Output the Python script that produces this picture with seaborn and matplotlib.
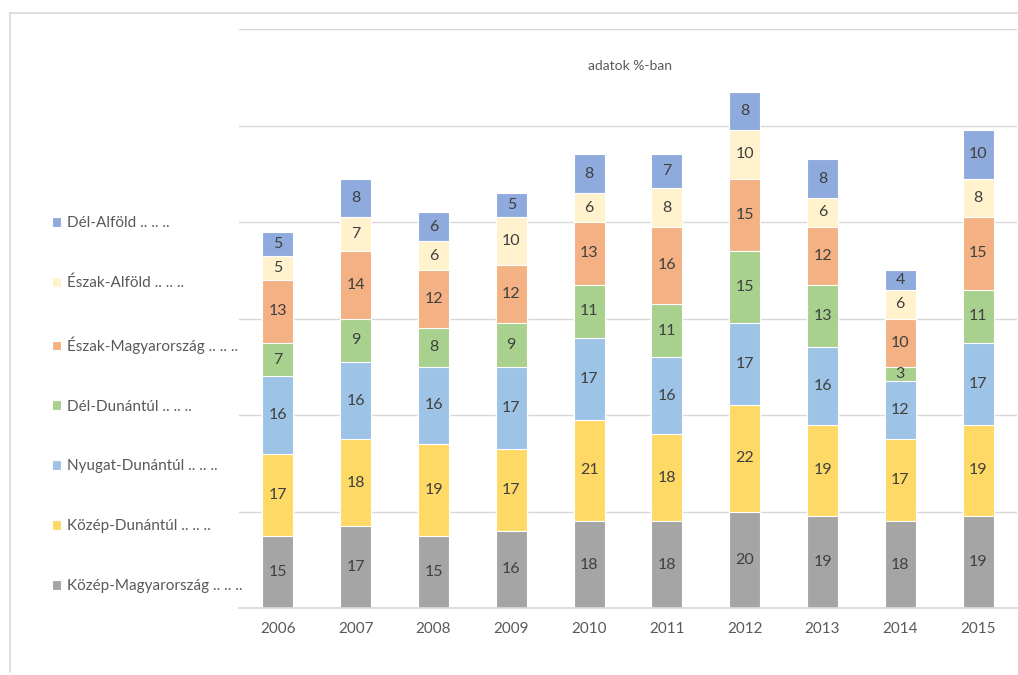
import matplotlib.pyplot as plt
import matplotlib.lines as mlines
import numpy as np
import pandas as pd
import seaborn as sns

years = ["2006", "2007", "2008", "2009", "2010", "2011", "2012", "2013", "2014", "2015"]

# bottom to top
kozep_magyarorszag = [15, 17, 15, 16, 18, 18, 20, 19, 18, 19]
kozep_dunantul = [17, 18, 19, 17, 21, 18, 22, 19, 17, 19]
nyugat_dunantul = [16, 16, 16, 17, 17, 16, 17, 16, 12, 17]
del_dunantul = [7, 9, 8, 9, 11, 11, 15, 13, 3, 11]
eszak_magyarorszag = [13, 14, 12, 12, 13, 16, 15, 12, 10, 15]
eszak_alfold = [5, 7, 6, 10, 6, 8, 10, 6, 6, 8]
del_alfold = [5, 8, 6, 5, 8, 7, 8, 8, 4, 10]

series_names = ["Közép-Magyarország", "Közép-Dunántúl", "Nyugat-Dunántúl", "Dél-Dunántúl",
                "Észak-Magyarország", "Észak-Alföld", "Dél-Alföld"]
series_values = [kozep_magyarorszag, kozep_dunantul, nyugat_dunantul, del_dunantul,
                 eszak_magyarorszag, eszak_alfold, del_alfold]
colors = ["#A5A5A5", "#FFD966", "#9DC3E6", "#A9D18E", "#F4B183", "#FFF2CC", "#8FAADC"]

sns.set_theme(style="white")
plt.rcParams["font.family"] = ["Lato", "DejaVu Sans"]

fig = plt.figure(figsize=(10.18, 6.75), dpi=100)
ax = fig.add_axes([239 / 1018, 1 - 608 / 675, 778 / 1018, 579 / 675])

vals = np.array(series_values)
tops = vals.cumsum(axis=0)
bottoms = tops - vals

# draw from the top series down so each lower segment covers the one above
for k in range(len(series_names) - 1, -1, -1):
    df = pd.DataFrame({"year": years, "value": tops[k]})
    sns.barplot(data=df, x="year", y="value", color=colors[k], width=0.4,
                saturation=1, edgecolor="white", linewidth=0.8,
                label=series_names[k] + " .. .. ..", ax=ax)

for k in range(len(series_names)):
    for i in range(len(years)):
        ax.text(i, bottoms[k, i] + vals[k, i] / 2, str(vals[k, i]),
                ha="center", va="center", fontsize=11.5, color="#404040")

ax.set_ylim(0, 120)
ax.set_xlim(-0.5, len(years) - 0.5)
ax.set_yticks(np.arange(0, 121, 20))
ax.yaxis.grid(True, color="#D9D9D9", linewidth=1)
ax.set_axisbelow(True)
ax.set_yticklabels([])
ax.tick_params(axis="y", length=0)
ax.tick_params(axis="x", length=0, labelsize=11, labelcolor="#595959", pad=10)
ax.set_xlabel("")
ax.set_ylabel("")
for s in ["top", "right", "left"]:
    ax.spines[s].set_visible(False)
ax.spines["bottom"].set_color("#D9D9D9")

handles, labels = ax.get_legend_handles_labels()
if ax.legend_:
    ax.legend_.remove()
fig.legend(handles, labels, loc="upper left", bbox_to_anchor=(46 / 1018, 1 - 210 / 675),
           frameon=False, fontsize=11, labelcolor="#595959", handlelength=0.6,
           handleheight=0.6, handletextpad=0.4, labelspacing=3.0, borderaxespad=0)

fig.text(630 / 1018, 1 - 66 / 675, "adatok %-ban", ha="center", va="center",
         fontsize=10, color="#595959")

frame_col = "#D9D9D9"
fig.add_artist(mlines.Line2D([10 / 1018, 1.0], [1 - 13 / 675, 1 - 13 / 675],
                             color=frame_col, linewidth=1.2))
fig.add_artist(mlines.Line2D([10 / 1018, 10 / 1018], [1 - 13 / 675, 1 - 672 / 675],
                             color=frame_col, linewidth=1.2))

fig.savefig("out.png", dpi=100)
